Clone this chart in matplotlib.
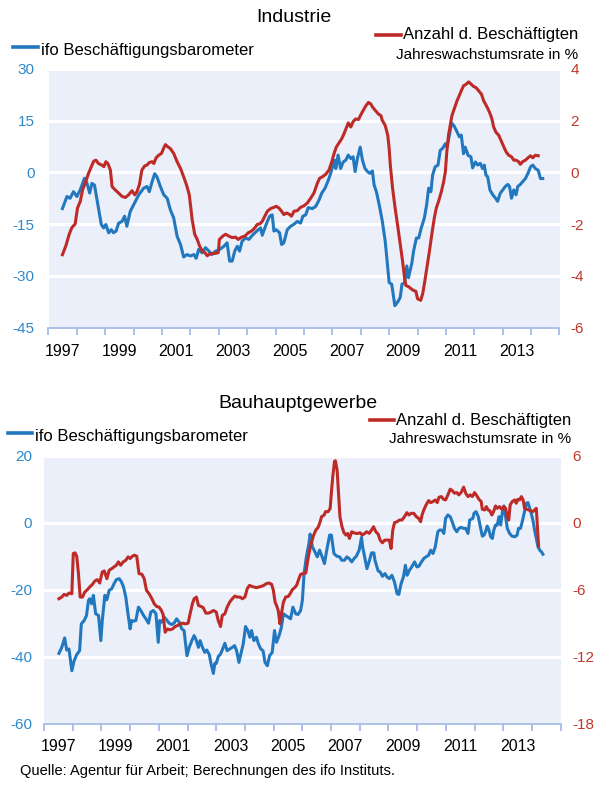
import matplotlib
matplotlib.use("Agg")
import matplotlib.pyplot as plt
from matplotlib.ticker import FixedLocator, NullFormatter, FixedFormatter

plt.rcParams['font.family'] = ['Liberation Sans', 'DejaVu Sans']
plt.rcParams['axes.unicode_minus'] = False

# ---------------- data: Industrie ----------------
ind_ifo_t = [1997.49,1997.65,1997.76,1997.88,1998.00,1998.12,1998.27,1998.35,1998.45,1998.53,1998.62,1998.74,1998.86,1998.94,1999.02,1999.12,1999.21,1999.29,1999.38,1999.47,1999.59,1999.68,1999.76,1999.88,2000.00,2000.18,2000.35,2000.47,2000.55,2000.65,2000.74,2000.82,2000.94,2001.06,2001.18,2001.29,2001.41,2001.53,2001.65,2001.76,2001.88,2002.00,2002.12,2002.20,2002.29,2002.41,2002.53,2002.65,2002.76,2002.88,2003.00,2003.18,2003.29,2003.38,2003.47,2003.56,2003.65,2003.73,2003.82,2003.94,2004.06,2004.15,2004.27,2004.39,2004.47,2004.53,2004.62,2004.71,2004.79,2004.88,2004.94,2005.02,2005.14,2005.21,2005.29,2005.41,2005.53,2005.65,2005.76,2005.88,2005.96,2006.06,2006.15,2006.29,2006.41,2006.53,2006.62,2006.74,2006.86,2006.94,2007.02,2007.09,2007.12,2007.20,2007.29,2007.38,2007.47,2007.56,2007.65,2007.73,2007.80,2007.88,2007.98,2008.06,2008.15,2008.24,2008.32,2008.41,2008.47,2008.55,2008.65,2008.76,2008.86,2008.94,2009.00,2009.09,2009.20,2009.31,2009.39,2009.45,2009.54,2009.62,2009.68,2009.80,2009.86,2009.96,2010.04,2010.13,2010.24,2010.32,2010.39,2010.47,2010.53,2010.62,2010.72,2010.80,2010.88,2010.98,2011.04,2011.12,2011.20,2011.29,2011.38,2011.47,2011.54,2011.62,2011.68,2011.78,2011.88,2011.94,2012.04,2012.12,2012.21,2012.29,2012.35,2012.41,2012.47,2012.55,2012.65,2012.75,2012.82,2012.91,2013.00,2013.09,2013.18,2013.24,2013.31,2013.39,2013.47,2013.53,2013.62,2013.70,2013.80,2013.89,2013.98,2014.06,2014.15,2014.25,2014.33,2014.41]
ind_ifo_v = [-10.5,-7,-7.5,-5.6,-7,-5,-1.7,-3,-6,-3.2,-3.7,-9.4,-15.1,-16.1,-15.1,-17.5,-16.6,-17.5,-17,-14.7,-14.2,-12.7,-15.6,-11.3,-9.4,-6.5,-4.6,-4.1,-5.6,-2.7,-0.4,-1.3,-4.1,-6.5,-7.5,-10.8,-13.2,-18.5,-20.9,-24.5,-23.8,-24.2,-23.8,-24.9,-22.3,-23.3,-21.8,-22.8,-23.8,-22.8,-22.5,-21.4,-20.4,-25.7,-25.7,-22.8,-21.4,-22.8,-19.9,-19,-19.4,-18.5,-17.5,-16.6,-16.1,-18.2,-16.1,-14.2,-12.7,-12.3,-17,-16.6,-17.5,-20.9,-20.4,-16.6,-15.6,-15,-14.2,-14.7,-12.7,-12.3,-10.2,-10.5,-9.9,-8,-6.1,-4.6,-2.2,-0.3,2.1,3.5,1.1,5,1.1,3,3.5,5,4,4.5,0.2,4,7.3,3.5,1.1,0.2,-0.3,0.4,-3.7,-5.6,-9.4,-14.2,-19.9,-26.6,-31.9,-32.4,-38.6,-37.4,-36.2,-32.4,-32,-27.1,-30.5,-26.2,-22.8,-19,-19,-16.1,-13.2,-9.4,-4.6,-5.6,-0.8,1.6,2.1,6.4,6.9,8.3,7.3,10.7,14.3,13.4,11.9,10.3,10.8,5.4,7.3,4.9,4.5,1.3,3,2.1,2.6,1.1,2.1,-0.8,-1.3,-5.1,-6.5,-7.5,-8.4,-6.1,-5.1,-4.1,-3.5,-4.1,-7.5,-5.1,-6.5,-4.1,-3.5,-2.7,-1.8,-0.3,1.6,2.1,1.1,0.6,-1.8,-1.8]

ind_emp_t = [1997.49,1997.61,1997.73,1997.82,1997.94,1998.02,1998.12,1998.20,1998.29,1998.41,1998.51,1998.59,1998.67,1998.76,1998.88,1998.95,1999.02,1999.09,1999.18,1999.24,1999.35,1999.47,1999.59,1999.71,1999.82,1999.94,2000.04,2000.12,2000.20,2000.29,2000.39,2000.47,2000.55,2000.65,2000.71,2000.79,2000.88,2000.98,2001.06,2001.12,2001.21,2001.29,2001.41,2001.53,2001.65,2001.76,2001.86,2001.96,2002.06,2002.15,2002.24,2002.32,2002.41,2002.51,2002.59,2002.67,2002.76,2002.88,2002.98,2003.02,2003.14,2003.24,2003.35,2003.47,2003.59,2003.68,2003.80,2003.92,2004.04,2004.15,2004.27,2004.35,2004.44,2004.53,2004.62,2004.71,2004.82,2004.94,2005.02,2005.12,2005.21,2005.29,2005.38,2005.47,2005.56,2005.65,2005.76,2005.88,2006.00,2006.12,2006.24,2006.35,2006.47,2006.55,2006.65,2006.76,2006.88,2006.98,2007.06,2007.14,2007.24,2007.33,2007.41,2007.49,2007.56,2007.65,2007.73,2007.82,2007.92,2008.00,2008.08,2008.18,2008.27,2008.35,2008.42,2008.52,2008.62,2008.71,2008.76,2008.86,2008.95,2009.00,2009.04,2009.12,2009.21,2009.31,2009.39,2009.47,2009.54,2009.59,2009.68,2009.78,2009.86,2009.94,2010.00,2010.11,2010.18,2010.25,2010.33,2010.42,2010.51,2010.59,2010.66,2010.74,2010.84,2010.92,2010.98,2011.03,2011.09,2011.15,2011.21,2011.31,2011.39,2011.47,2011.54,2011.62,2011.71,2011.80,2011.89,2011.98,2012.06,2012.15,2012.25,2012.33,2012.41,2012.48,2012.56,2012.62,2012.68,2012.76,2012.86,2012.95,2013.04,2013.12,2013.21,2013.31,2013.39,2013.47,2013.56,2013.62,2013.70,2013.80,2013.89,2013.98,2014.06,2014.15,2014.25]
ind_emp_v = [-3.18,-2.84,-2.39,-2.14,-1.99,-1.38,-1.12,-0.68,-0.42,-0.04,0.22,0.43,0.47,0.34,0.28,0.22,0.41,0.34,0.09,-0.55,-0.68,-0.80,-0.93,-0.97,-0.87,-0.71,-0.87,-0.74,-0.48,0.09,0.25,0.28,0.38,0.41,0.34,0.56,0.66,0.73,0.94,1.07,0.98,0.92,0.73,0.41,0.15,-0.17,-0.48,-0.87,-1.82,-2.39,-2.59,-2.84,-3.03,-3.10,-3.22,-3.16,-3.13,-3.13,-3.10,-2.59,-2.46,-2.39,-2.46,-2.52,-2.50,-2.59,-2.50,-2.46,-2.33,-2.27,-2.14,-2.01,-1.99,-1.89,-1.69,-1.50,-1.40,-1.35,-1.31,-1.38,-1.50,-1.63,-1.57,-1.61,-1.69,-1.50,-1.48,-1.35,-1.29,-1.18,-0.99,-0.80,-0.42,-0.23,-0.17,-0.08,0.09,0.41,0.73,0.98,1.15,1.30,1.49,1.71,1.91,1.75,1.96,2.06,2.04,2.22,2.38,2.57,2.70,2.64,2.51,2.38,2.25,2.19,2.00,1.81,1.43,0.92,0.28,-0.61,-1.38,-2.14,-2.78,-3.41,-4.05,-4.37,-4.41,-4.50,-4.56,-4.59,-4.88,-4.94,-4.69,-4.24,-3.67,-3.03,-2.33,-1.76,-1.38,-1.12,-0.74,-0.36,0.03,0.79,1.43,1.81,2.19,2.51,2.76,2.96,3.15,3.34,3.40,3.49,3.40,3.31,3.27,3.15,3.02,2.76,2.60,2.45,2.25,2.06,1.75,1.55,1.43,1.20,0.98,0.79,0.66,0.60,0.47,0.47,0.41,0.31,0.41,0.47,0.56,0.64,0.56,0.66,0.64]

# ---------------- data: Bauhauptgewerbe ----------------
bau_ifo_t = [1997.52,1997.62,1997.72,1997.79,1997.87,1997.97,1998.05,1998.14,1998.24,1998.30,1998.40,1998.48,1998.55,1998.59,1998.66,1998.72,1998.80,1998.90,1998.98,1999.03,1999.12,1999.19,1999.27,1999.36,1999.44,1999.52,1999.62,1999.70,1999.77,1999.85,1999.91,2000.00,2000.05,2000.12,2000.20,2000.29,2000.37,2000.47,2000.55,2000.64,2000.72,2000.81,2000.90,2000.98,2001.03,2001.10,2001.19,2001.27,2001.36,2001.45,2001.53,2001.62,2001.71,2001.80,2001.88,2001.98,2002.06,2002.15,2002.23,2002.31,2002.38,2002.44,2002.52,2002.60,2002.67,2002.76,2002.81,2002.90,2002.95,2003.00,2003.07,2003.15,2003.21,2003.30,2003.38,2003.47,2003.56,2003.64,2003.71,2003.79,2003.87,2003.94,2004.02,2004.10,2004.17,2004.23,2004.31,2004.40,2004.47,2004.55,2004.63,2004.70,2004.78,2004.86,2004.95,2005.03,2005.10,2005.19,2005.27,2005.34,2005.42,2005.51,2005.59,2005.67,2005.77,2005.85,2005.94,2006.00,2006.06,2006.14,2006.23,2006.27,2006.35,2006.41,2006.52,2006.60,2006.69,2006.77,2006.85,2006.95,2007.01,2007.10,2007.20,2007.30,2007.37,2007.47,2007.55,2007.63,2007.72,2007.80,2007.88,2007.98,2008.06,2008.10,2008.17,2008.25,2008.34,2008.41,2008.49,2008.53,2008.64,2008.71,2008.79,2008.88,2008.95,2009.03,2009.12,2009.21,2009.30,2009.36,2009.44,2009.52,2009.59,2009.65,2009.73,2009.81,2009.91,2009.99,2010.06,2010.15,2010.23,2010.31,2010.40,2010.47,2010.55,2010.63,2010.72,2010.78,2010.86,2010.93,2010.99,2011.07,2011.15,2011.22,2011.30,2011.38,2011.45,2011.53,2011.62,2011.69,2011.77,2011.83,2011.94,2011.98,2012.05,2012.13,2012.20,2012.27,2012.33,2012.38,2012.44,2012.50,2012.56,2012.62,2012.67,2012.73,2012.79,2012.85,2012.91,2012.97,2013.02,2013.08,2013.14,2013.22,2013.30,2013.40,2013.48,2013.53,2013.60,2013.66,2013.74,2013.80,2013.86,2013.92,2013.98,2014.03,2014.09,2014.15,2014.21,2014.27,2014.33,2014.38]
bau_ifo_v = [-39,-37.2,-34.4,-38,-37.7,-44.2,-41.2,-39.4,-38.2,-30.2,-29.2,-27.7,-23.2,-22.7,-24.2,-21.7,-27.2,-27.7,-35.2,-29.2,-21.7,-23,-20.2,-19.7,-18.2,-17,-16.7,-17.7,-19.2,-22.2,-26.2,-31.7,-29.2,-29.4,-29.2,-25.2,-26.2,-27.7,-28.7,-30,-26.7,-26.2,-27.2,-35.7,-29.2,-29.7,-28.2,-29,-30,-30.4,-30,-28.7,-29.7,-31.7,-32.2,-39.7,-37.2,-35.2,-33.7,-35.2,-37.2,-35.2,-37.2,-38.7,-38,-39.4,-41.7,-45,-42,-42,-40,-39.2,-38,-36,-38.2,-37.7,-37.2,-36.7,-38.2,-41.7,-38.7,-36.2,-31,-32.2,-34.2,-32.2,-35.2,-34.2,-36.2,-37.7,-38.2,-41.7,-42.7,-39.7,-38.7,-32.2,-35.7,-33.7,-31.2,-27.2,-27.7,-28.2,-28.7,-25.2,-27.2,-27.4,-26.2,-23.2,-15.2,-10.2,-6.2,-3.4,-7.2,-8.2,-10.2,-8.2,-10.2,-12.2,-8.2,-3.7,-3.7,-9.2,-10,-10.2,-11.2,-11.2,-10.2,-10.7,-11.7,-10.7,-10,-8.2,-4.4,-7.2,-10.2,-13.7,-11.2,-9,-9,-11.2,-14.4,-14.7,-16,-15.2,-16.2,-16.7,-15.7,-17.7,-21.2,-21.4,-18.2,-16.2,-12.7,-15.7,-14.2,-13.2,-11.7,-13.2,-13,-11.7,-10.7,-10.2,-9.7,-8.2,-9.2,-7.2,-2.7,-2.2,-2.2,-3.2,1.3,2.3,1.8,0.3,-1.7,-2.7,-1.7,-1.4,-1.7,-1.7,-3.2,0.8,1.3,2.8,3.3,1.8,-1.2,-4,-3.7,-2.7,-1,-2.2,-4.2,-4.7,-2.2,-0.7,-0.7,1.8,-0.7,3.3,5,1.8,-1.7,-3.2,-4,-4.2,-3.7,-1.7,-1.7,0.3,3.3,5.8,6,4.3,2.6,0.8,-2.2,-4.7,-7.2,-8.2,-8.7,-9.4]

bau_emp_t = [1997.52,1997.62,1997.70,1997.79,1997.87,1997.97,1998.02,1998.08,1998.14,1998.20,1998.26,1998.34,1998.42,1998.51,1998.59,1998.69,1998.77,1998.86,1998.94,1999.03,1999.10,1999.19,1999.27,1999.36,1999.44,1999.52,1999.59,1999.67,1999.76,1999.85,1999.93,2000.00,2000.08,2000.15,2000.23,2000.31,2000.41,2000.49,2000.57,2000.66,2000.76,2000.84,2000.92,2001.01,2001.09,2001.15,2001.22,2001.30,2001.38,2001.48,2001.57,2001.65,2001.74,2001.83,2001.92,2002.02,2002.09,2002.17,2002.23,2002.31,2002.38,2002.47,2002.55,2002.64,2002.72,2002.81,2002.90,2002.95,2003.00,2003.07,2003.15,2003.21,2003.30,2003.38,2003.47,2003.56,2003.65,2003.73,2003.83,2003.91,2004.00,2004.08,2004.16,2004.23,2004.31,2004.40,2004.49,2004.57,2004.66,2004.74,2004.84,2004.93,2004.99,2005.05,2005.10,2005.16,2005.22,2005.27,2005.34,2005.42,2005.51,2005.59,2005.65,2005.73,2005.80,2005.88,2005.94,2006.02,2006.12,2006.17,2006.23,2006.31,2006.38,2006.47,2006.55,2006.62,2006.67,2006.76,2006.81,2006.90,2006.97,2007.01,2007.06,2007.12,2007.15,2007.21,2007.26,2007.31,2007.38,2007.45,2007.52,2007.58,2007.64,2007.72,2007.79,2007.87,2007.94,2008.01,2008.09,2008.17,2008.24,2008.33,2008.41,2008.48,2008.56,2008.64,2008.71,2008.79,2008.87,2008.95,2009.03,2009.09,2009.15,2009.21,2009.30,2009.38,2009.47,2009.56,2009.64,2009.71,2009.79,2009.88,2009.97,2010.05,2010.12,2010.17,2010.23,2010.31,2010.40,2010.47,2010.55,2010.63,2010.70,2010.76,2010.84,2010.92,2010.99,2011.07,2011.15,2011.22,2011.30,2011.38,2011.45,2011.53,2011.62,2011.69,2011.77,2011.85,2011.92,2012.00,2012.08,2012.15,2012.23,2012.27,2012.35,2012.41,2012.47,2012.53,2012.60,2012.66,2012.73,2012.79,2012.87,2012.95,2013.02,2013.08,2013.14,2013.19,2013.24,2013.31,2013.40,2013.45,2013.51,2013.57,2013.63,2013.69,2013.74,2013.83,2013.90,2013.95,2014.03,2014.09,2014.15,2014.19,2014.23]
bau_emp_v = [-6.81,-6.66,-6.42,-6.51,-6.30,-6.36,-2.76,-2.70,-3.00,-4.56,-6.66,-6.66,-6.21,-6.00,-5.76,-5.52,-5.22,-5.10,-5.40,-4.41,-4.32,-5.01,-4.26,-4.11,-3.96,-3.81,-3.51,-3.81,-3.51,-3.36,-3.06,-3.21,-3.00,-2.91,-3.00,-4.56,-4.62,-5.01,-6.06,-6.36,-6.81,-7.26,-7.50,-7.56,-7.86,-8.22,-9.81,-9.51,-9.60,-9.51,-9.30,-9.21,-9.06,-9.00,-9.06,-9.00,-8.16,-7.26,-6.81,-6.66,-7.41,-7.50,-7.62,-8.10,-8.10,-8.01,-7.86,-7.92,-8.01,-8.76,-9.30,-8.31,-8.16,-7.56,-7.11,-6.81,-6.57,-6.66,-6.66,-6.81,-6.66,-5.91,-5.61,-5.70,-5.76,-5.82,-5.76,-5.70,-5.61,-5.46,-5.40,-5.52,-6.06,-7.11,-7.41,-7.86,-9.06,-8.16,-7.11,-6.66,-6.60,-6.30,-6.00,-5.82,-5.61,-5.01,-4.62,-4.56,-4.50,-3.66,-2.76,-1.86,-1.20,-0.66,-0.42,0.09,0.54,0.69,0.99,0.99,1.29,2.64,4.14,5.49,5.55,4.74,2.64,0.54,-0.36,-0.90,-1.11,-0.96,-1.41,-0.81,-0.90,-0.96,-0.96,-0.90,-1.11,-0.96,-0.81,-0.96,-0.66,-0.36,-0.81,-1.02,-1.56,-1.80,-1.56,-1.56,-1.56,-2.31,-0.66,0.00,0.09,0.24,0.24,0.54,0.90,0.69,0.84,0.84,0.54,0.39,0.09,0.69,1.14,1.59,1.98,1.80,1.89,2.04,1.80,2.28,2.34,2.10,2.04,2.49,3.00,2.88,2.64,2.70,2.49,2.70,3.18,2.64,2.34,2.49,2.34,2.70,2.40,2.10,1.89,1.20,1.14,1.44,1.14,1.08,0.69,0.99,1.50,1.29,1.44,1.20,1.44,1.29,0.54,0.24,1.59,1.89,2.04,1.74,2.10,2.04,2.34,2.04,1.29,1.20,1.14,1.08,0.99,1.14,1.29,-0.36,-2.10]

years_major = list(range(1997, 2016))
year_labels = ["1997", "1999", "2001", "2003", "2005", "2007", "2009", "2011", "2013"]

ind_left_ticks = [30, 15, 0, -15, -30, -45]
ind_right_ticks = [4, 2, 0, -2, -4, -6]
bau_left_ticks = [20, 0, -20, -40, -60]
bau_right_ticks = [6, 0, -6, -12, -18]

BLUE = "#2278BE"
RED = "#BE2B27"
BLUE_TXT = "#2E88CC"
RED_TXT = "#C0392B"
BG = "#EBEFFA"
AXC = "#A6BCE6"

W, H = 597, 785
fig = plt.figure(figsize=(W / 100, H / 100), dpi=100)


def rect(l, t, r, b):
    return [l / W, 1 - b / H, (r - l) / W, (b - t) / H]


def px(x, y):
    return x / W, 1 - y / H


def make_panel(box, ifo_t, ifo_v, emp_t, emp_v, lt, rt, lpad, rpad, xpad):
    ax = fig.add_axes(rect(*box))
    ax.set_facecolor(BG)
    ax.set_xlim(1997, 2015)
    ax.set_ylim(lt[-1], lt[0])
    ax.set_yticks(lt)
    ax.yaxis.grid(True, color="white", lw=2.2)
    ax.set_axisbelow(True)
    for s in ["top", "left", "right"]:
        ax.spines[s].set_visible(False)
    ax.spines["bottom"].set_color(AXC)
    ax.spines["bottom"].set_linewidth(1.3)
    ax.xaxis.set_major_locator(FixedLocator(years_major))
    ax.xaxis.set_major_formatter(NullFormatter())
    ax.xaxis.set_minor_locator(FixedLocator([int(y) + 0.5 for y in year_labels]))
    ax.xaxis.set_minor_formatter(FixedFormatter(year_labels))
    ax.tick_params(axis="x", which="major", length=5, width=1.3, color=AXC, direction="out")
    ax.tick_params(axis="x", which="minor", length=0, pad=xpad, labelsize=11.5, labelcolor="black")
    ax.tick_params(axis="y", length=0, pad=lpad, labelsize=11, labelcolor=BLUE_TXT)
    ax.plot(ifo_t, ifo_v, color=BLUE, lw=2.2, solid_joinstyle="round", zorder=3)

    ax2 = ax.twinx()
    ax2.set_ylim(rt[-1], rt[0])
    ax2.set_yticks(rt)
    for s in ["top", "left", "right", "bottom"]:
        ax2.spines[s].set_visible(False)
    ax2.tick_params(axis="y", length=0, pad=rpad, labelsize=11, labelcolor=RED_TXT)
    ax2.plot(emp_t, emp_v, color=RED, lw=2.2, solid_joinstyle="round", zorder=3)
    return ax, ax2


make_panel((48.5, 68.7, 559.5, 327.8), ind_ifo_t, ind_ifo_v, ind_emp_t, ind_emp_v,
           ind_left_ticks, ind_right_ticks, 10, 8, 11.5)
make_panel((44, 455.7, 560.7, 723.7), bau_ifo_t, bau_ifo_v, bau_emp_t, bau_emp_v,
           bau_left_ticks, bau_right_ticks, 8.5, 8.5, 11)

# titles
fig.text(*px(294, 17), "Industrie", ha="center", va="center", fontsize=14)
fig.text(*px(298, 403), "Bauhauptgewerbe", ha="center", va="center", fontsize=14)

# legends (top)
fig.add_artist(plt.Line2D([13 / W, 38 / W], [1 - 47 / H, 1 - 47 / H], color=BLUE, lw=2.6))
fig.text(*px(41, 50), "ifo Beschäftigungsbarometer", ha="left", va="center", fontsize=12)
fig.add_artist(plt.Line2D([376 / W, 401 / W], [1 - 34.5 / H, 1 - 34.5 / H], color=RED, lw=2.6))
fig.text(*px(578, 35), "Anzahl d. Beschäftigten", ha="right", va="center", fontsize=12)
fig.text(*px(578, 55), "Jahreswachstumsrate in %", ha="right", va="center", fontsize=11)

# legends (bottom)
fig.add_artist(plt.Line2D([8 / W, 32 / W], [1 - 433 / H, 1 - 433 / H], color=BLUE, lw=2.6))
fig.text(*px(35, 437), "ifo Beschäftigungsbarometer", ha="left", va="center", fontsize=12)
fig.add_artist(plt.Line2D([370 / W, 394 / W], [1 - 419.5 / H, 1 - 419.5 / H], color=RED, lw=2.6))
fig.text(*px(571, 420), "Anzahl d. Beschäftigten", ha="right", va="center", fontsize=12)
fig.text(*px(571, 439), "Jahreswachstumsrate in %", ha="right", va="center", fontsize=11)

fig.text(*px(20, 771), "Quelle: Agentur für Arbeit; Berechnungen des ifo Instituts.",
         ha="left", va="center", fontsize=10.5)

fig.savefig("out.png", dpi=100)
